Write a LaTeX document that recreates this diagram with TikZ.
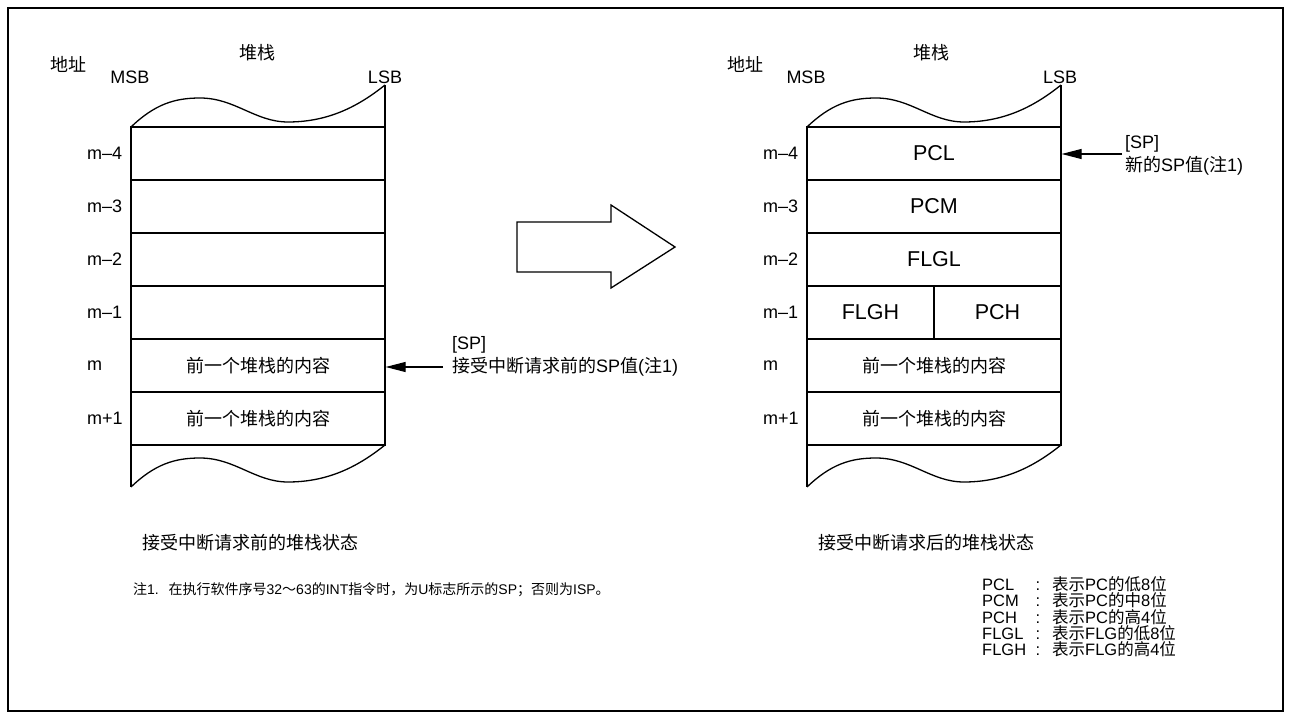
\documentclass[tikz,border=0pt]{standalone}
\usepackage{fontspec}
\setmainfont{Liberation Sans}
\newfontfamily\cjk{Noto Sans CJK SC}
\newcommand\zh[1]{{\cjk #1}}
\usetikzlibrary{arrows.meta}
\begin{document}
\begin{tikzpicture}[x=1pt,y=-1pt,
  every node/.style={inner sep=0pt, font=\fontsize{18}{22}\selectfont},
  edge/.style={line width=1.3pt},
  cell/.style={draw, line width=1.3pt, minimum width=254pt, minimum height=53pt, font=\fontsize{21.5}{24}\selectfont},
  halfcell/.style={cell, minimum width=127pt},
  zhcell/.style={cell, font=\fontsize{18}{22}\selectfont},
  ptr/.style={line width=1.1pt, -{Triangle[length=20pt,width=10pt]}},
  bigarrow/.style={line width=1.3pt, line join=miter},
  rowlabel/.style={anchor=west},
  legend/.style={font=\fontsize{16.5}{16}\selectfont, text height=11.5pt, text depth=2.5pt}
]
\useasboundingbox (0,0) rectangle (1291,719);
\draw[line width=2.5pt] (8,8) rectangle (1283,711);

% ---------- stack outlines ----------
\foreach \dx in {0,676} {
  \begin{scope}[shift={(\dx,0)}]
    \draw[edge] (131,127) .. controls (155,104) and (175,98) .. (200,98)
                .. controls (235,98) and (255,122) .. (288,122)
                .. controls (330,122) and (360,105) .. (385,85);
    \draw[edge] (131,487) .. controls (155,464) and (175,458) .. (200,458)
                .. controls (235,458) and (255,482) .. (288,482)
                .. controls (330,482) and (360,465) .. (385,445);
    \draw[edge] (131,127) -- (131,487);
    \draw[edge] (385,85) -- (385,445);
  \end{scope}
}

% ---------- left stack ----------
\node (addrL) at (68,64) {\zh{地址}};
\node (msbL) at (130,77) {MSB};
\node (stkL) at (257,53) {\zh{堆栈}};
\node (lsbL) at (385,77) {LSB};

\node[cell] (L4) at (258,153.5) {};
\node[cell] (L3) at (258,206.5) {};
\node[cell] (L2) at (258,259.5) {};
\node[cell] (L1) at (258,312.5) {};
\node[zhcell] (L0) at (258,365.5) {\zh{前一个堆栈的内容}};
\node[zhcell] (Lp1) at (258,418.5) {\zh{前一个堆栈的内容}};

\node[rowlabel] (aL4) at (87,153.5) {m–4};
\node[rowlabel] (aL3) at (87,206.5) {m–3};
\node[rowlabel] (aL2) at (87,259.5) {m–2};
\node[rowlabel] (aL1) at (87,312.5) {m–1};
\node[rowlabel] (aL0) at (87,365.5) {m};
\node[rowlabel] (aLp1) at (87,418.5) {m+1};

\node[anchor=west] (spL1) at (452,345) {[SP]};
\node[anchor=west] (spL2) at (452,367) {\zh{接受中断请求前的}SP\zh{值}(\zh{注}1)};
\coordinate (spLs) at (443,367);
\draw[ptr] (spLs) -- (L0.east |- spLs);

\node[anchor=west] (capL) at (142,543) {\zh{接受中断请求前的堆栈状态}};

% ---------- big arrow ----------
\draw[bigarrow] (517,222) -- (611,222) -- (611,205) -- (675,247) -- (611,288) -- (611,272) -- (517,272) -- cycle;

% ---------- right stack ----------
\node (addrR) at (745,64) {\zh{地址}};
\node (msbR) at (806,77) {MSB};
\node (stkR) at (931,53) {\zh{堆栈}};
\node (lsbR) at (1060,77) {LSB};

\node[cell] (R4) at (934,153.5) {PCL};
\node[cell] (R3) at (934,206.5) {PCM};
\node[cell] (R2) at (934,259.5) {FLGL};
\node[halfcell] (R1a) at (870.5,312.5) {FLGH};
\node[halfcell] (R1b) at (997.5,312.5) {PCH};
\node[zhcell] (R0) at (934,365.5) {\zh{前一个堆栈的内容}};
\node[zhcell] (Rp1) at (934,418.5) {\zh{前一个堆栈的内容}};

\node[rowlabel] (aR4) at (763,153.5) {m–4};
\node[rowlabel] (aR3) at (763,206.5) {m–3};
\node[rowlabel] (aR2) at (763,259.5) {m–2};
\node[rowlabel] (aR1) at (763,312.5) {m–1};
\node[rowlabel] (aR0) at (763,365.5) {m};
\node[rowlabel] (aRp1) at (763,418.5) {m+1};

\node[anchor=west] (spR1) at (1125,144) {[SP]};
\node[anchor=west] (spR2) at (1125,166) {\zh{新的}SP\zh{值}(\zh{注}1)};
\coordinate (spRs) at (1122,154);
\draw[ptr] (spRs) -- (R4.east |- spRs);

\node[anchor=west] (capR) at (818,543) {\zh{接受中断请求后的堆栈状态}};

% ---------- note ----------
\node[anchor=west, font=\fontsize{14}{17}\selectfont] (note) at (133,590) {\zh{注}1.\hspace{0.7em}\zh{在执行软件序号}32\zh{～}63\zh{的}INT\zh{指令时，为}U\zh{标志所示的}SP\zh{；否则为}ISP\zh{。}};

% ---------- legend ----------
\foreach \n/\k/\d [count=\i from 0] in {
  PCL/lgA/{\zh{表示}PC\zh{的低}8\zh{位}},
  PCM/lgB/{\zh{表示}PC\zh{的中}8\zh{位}},
  PCH/lgC/{\zh{表示}PC\zh{的高}4\zh{位}},
  FLGL/lgD/{\zh{表示}FLG\zh{的低}8\zh{位}},
  FLGH/lgE/{\zh{表示}FLG\zh{的高}4\zh{位}}} {
  \node[legend, anchor=west] (\k n) at (982,586+16.3*\i) {\n};
  \node[legend] (\k c) at (1038,586+16.3*\i) {:};
  \node[legend, anchor=west] (\k d) at (1052,586+16.3*\i) {\d};
}
\end{tikzpicture}
\end{document}
